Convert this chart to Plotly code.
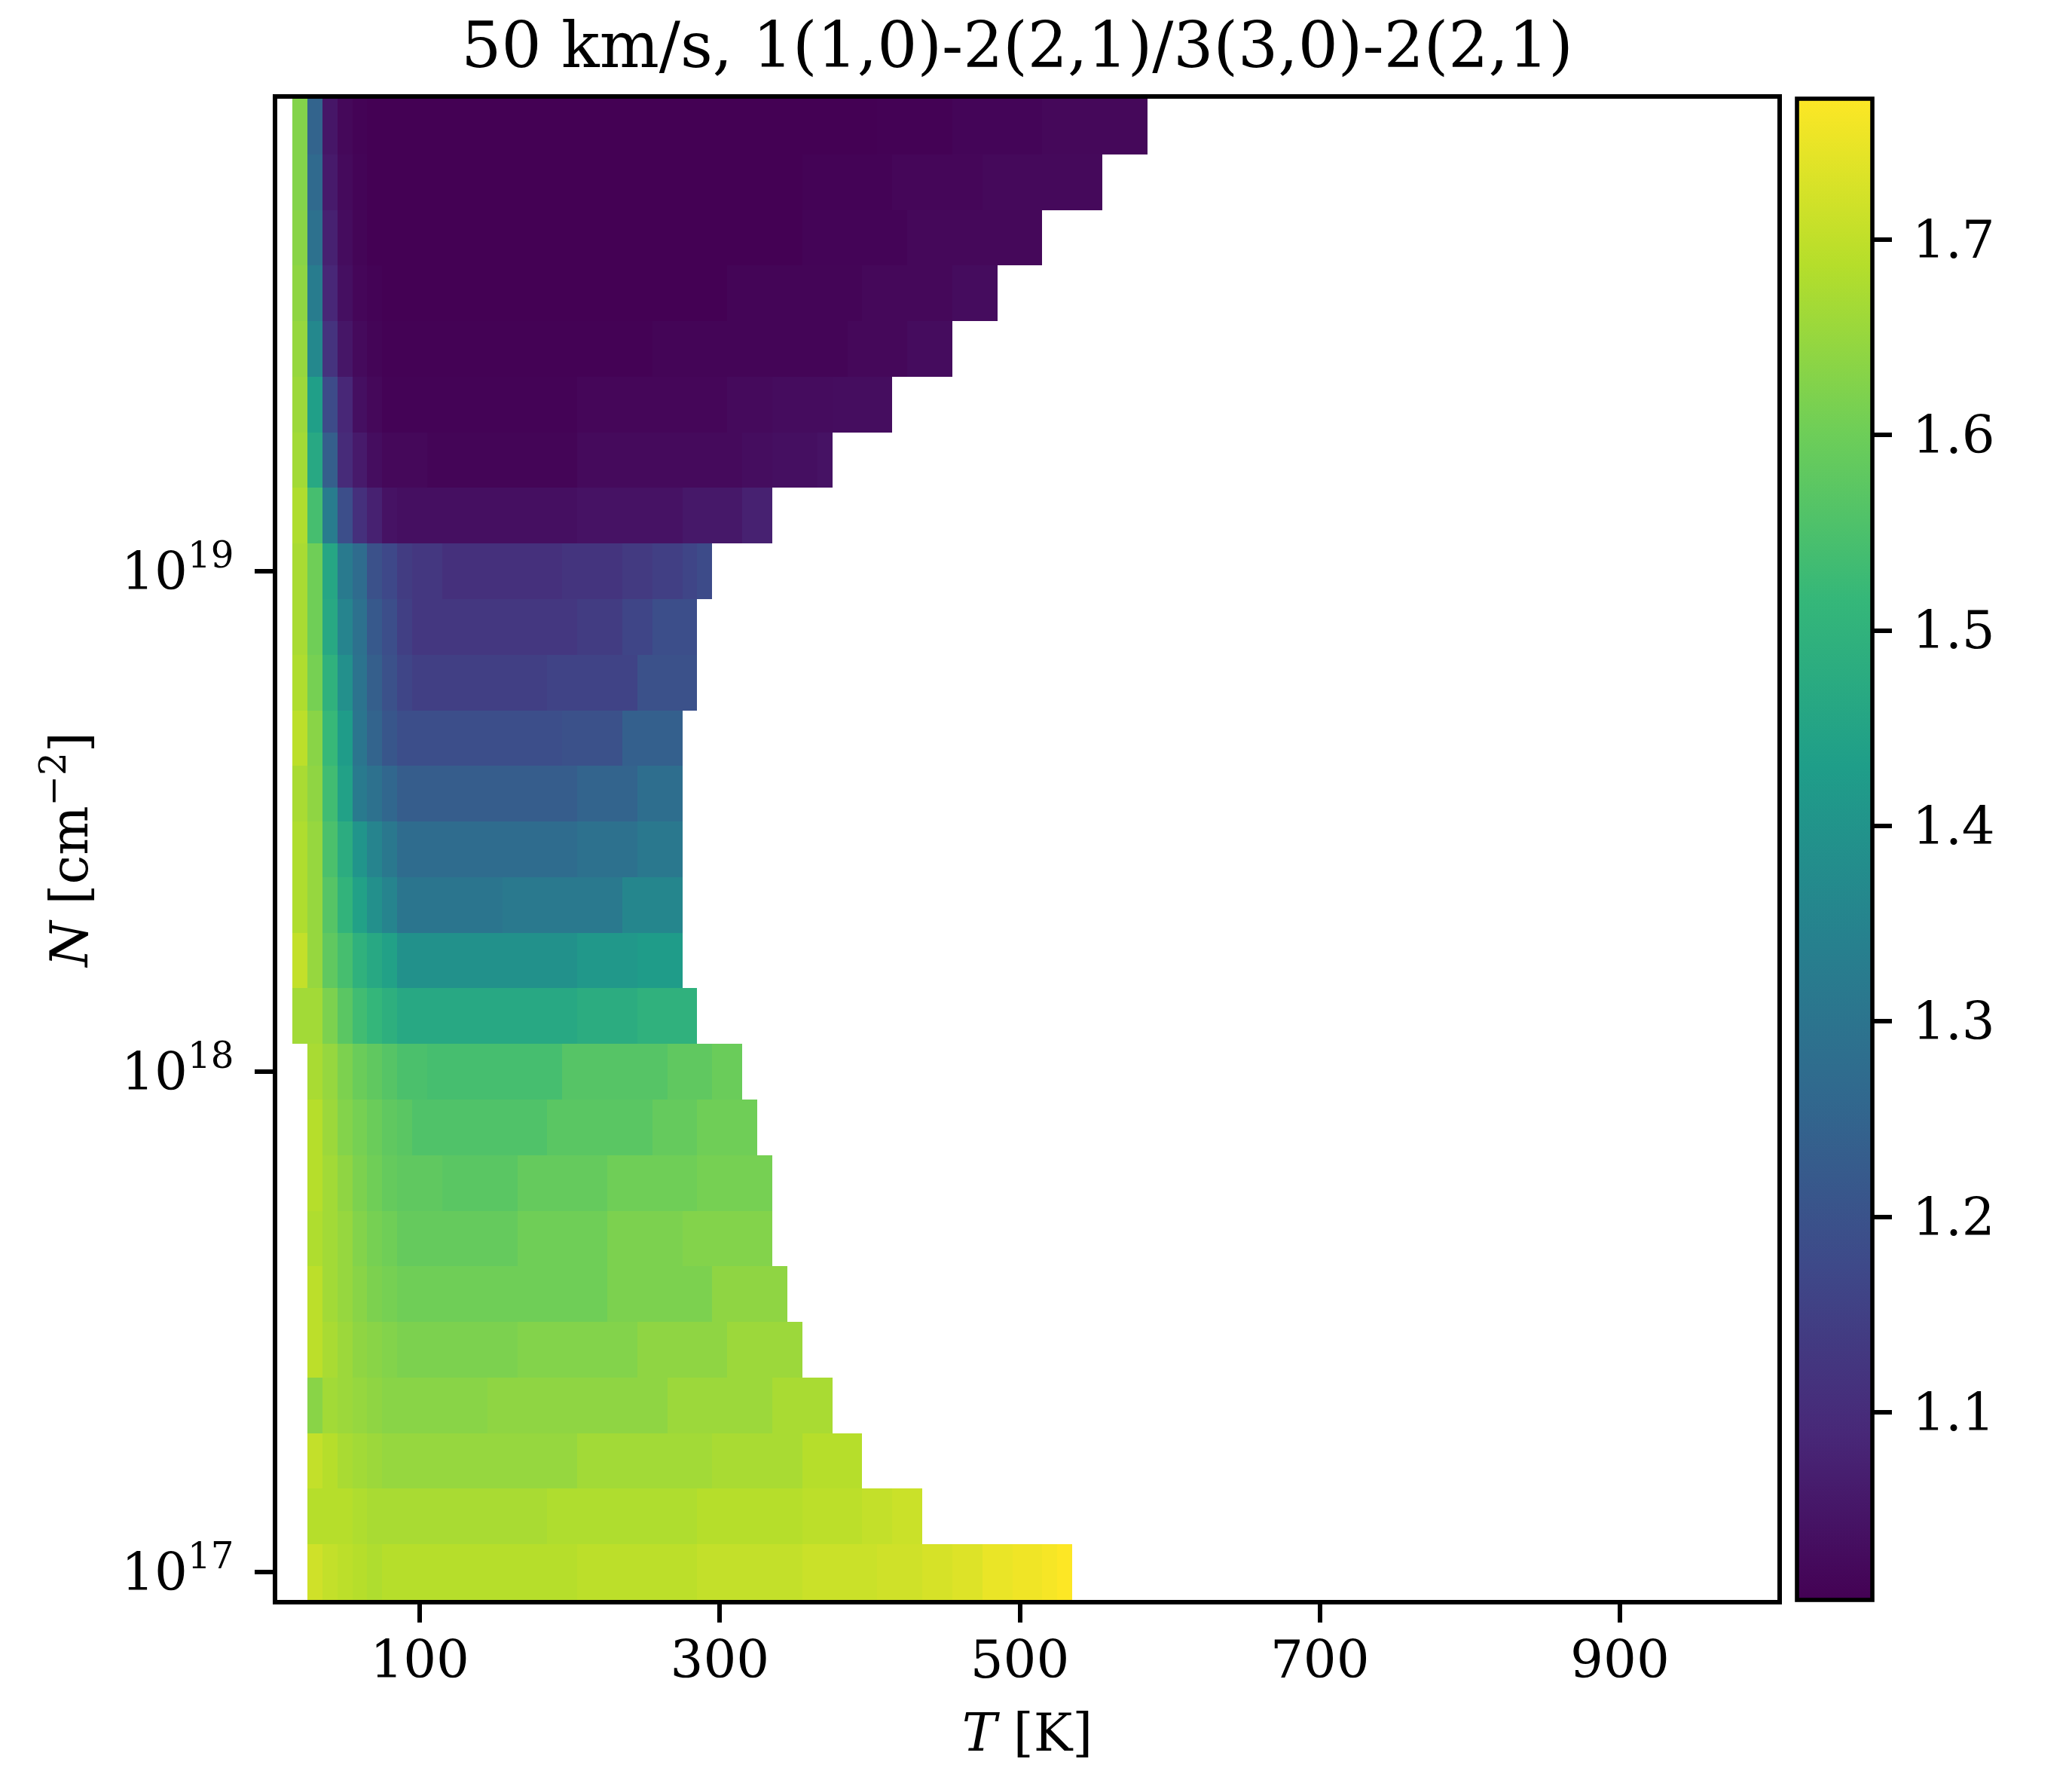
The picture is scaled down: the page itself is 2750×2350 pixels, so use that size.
import numpy as np
import plotly.graph_objects as go

# temperature grid (K) and log10 column density grid
temps_K = np.arange(10, 1001, 10)
log_N = np.linspace(17, 17 + 26 / 9, 27)

# first temperature with a value, per row (bottom row first)
row_first_T = [30] * 10 + [20] * 17

# line ratio per row, as (value, number of 10 K cells) runs
row_00 = [(1.718, 1), (1.703, 1), (1.695, 1), (1.688, 1), (1.680, 1), (1.688, 13), (1.695, 8), (1.703, 7),
          (1.711, 5), (1.718, 3), (1.726, 2), (1.734, 2), (1.749, 2), (1.757, 2), (1.764, 1), (1.772, 1)]
row_01 = [(1.688, 3), (1.680, 1), (1.672, 12), (1.680, 10), (1.688, 7), (1.695, 4), (1.703, 2), (1.711, 2)]
row_02 = [(1.703, 1), (1.688, 1), (1.672, 1), (1.664, 1), (1.657, 1), (1.649, 13), (1.664, 9), (1.672, 6), (1.688, 4)]
row_03 = [(1.634, 1), (1.664, 1), (1.657, 1), (1.649, 1), (1.641, 1), (1.634, 7), (1.641, 12), (1.657, 7), (1.672, 4)]
row_04 = [(1.695, 1), (1.672, 1), (1.657, 1), (1.641, 1), (1.634, 1), (1.626, 1), (1.618, 8), (1.626, 8), (1.641, 6),
          (1.657, 5)]
row_05 = [(1.695, 1), (1.664, 1), (1.649, 1), (1.634, 1), (1.618, 1), (1.611, 1), (1.603, 14), (1.618, 7), (1.641, 5)]
row_06 = [(1.680, 1), (1.664, 1), (1.649, 1), (1.626, 1), (1.611, 1), (1.603, 1), (1.588, 8), (1.603, 6), (1.618, 5),
          (1.626, 6)]
row_07 = [(1.688, 1), (1.664, 1), (1.641, 1), (1.618, 1), (1.603, 1), (1.588, 1), (1.580, 3), (1.572, 5), (1.588, 6),
          (1.603, 6), (1.611, 5)]
row_08 = [(1.688, 1), (1.657, 1), (1.626, 1), (1.611, 1), (1.595, 1), (1.580, 1), (1.572, 1), (1.557, 9), (1.572, 7),
          (1.588, 3), (1.603, 4)]
row_09 = [(1.672, 1), (1.649, 1), (1.618, 1), (1.595, 1), (1.580, 1), (1.565, 1), (1.549, 2), (1.542, 9), (1.565, 7),
          (1.580, 3), (1.595, 2)]
row_10 = [(1.664, 1), (1.664, 1), (1.618, 1), (1.572, 1), (1.534, 1), (1.511, 1), (1.488, 1), (1.465, 12), (1.480, 4),
          (1.496, 4)]
row_11 = [(1.703, 1), (1.649, 1), (1.580, 1), (1.542, 1), (1.496, 1), (1.465, 1), (1.442, 1), (1.392, 12), (1.411, 4),
          (1.426, 3)]
row_12 = [(1.680, 1), (1.649, 1), (1.565, 1), (1.503, 1), (1.442, 1), (1.388, 1), (1.350, 1), (1.304, 7), (1.315, 8),
          (1.357, 4)]
row_13 = [(1.680, 1), (1.649, 1), (1.549, 1), (1.480, 1), (1.403, 1), (1.350, 1), (1.311, 1), (1.273, 12), (1.288, 4),
          (1.311, 3)]
row_14 = [(1.672, 1), (1.641, 1), (1.534, 1), (1.442, 1), (1.319, 1), (1.288, 1), (1.257, 1), (1.230, 12), (1.250, 4),
          (1.280, 3)]
row_15 = [(1.695, 1), (1.634, 1), (1.519, 1), (1.426, 1), (1.303, 1), (1.250, 1), (1.211, 1), (1.188, 11), (1.196, 4),
          (1.238, 4)]
row_16 = [(1.680, 1), (1.611, 1), (1.496, 1), (1.388, 1), (1.296, 1), (1.234, 1), (1.196, 1), (1.165, 1), (1.150, 9),
          (1.158, 6), (1.196, 4)]
row_17 = [(1.672, 1), (1.603, 1), (1.465, 1), (1.350, 1), (1.288, 1), (1.219, 1), (1.188, 1), (1.150, 1), (1.127, 11),
          (1.142, 3), (1.165, 2), (1.188, 3)]
row_18 = [(1.672, 1), (1.603, 1), (1.457, 1), (1.319, 1), (1.273, 1), (1.196, 1), (1.173, 1), (1.142, 1), (1.127, 2),
          (1.111, 8), (1.120, 4), (1.135, 2), (1.150, 2), (1.165, 1), (1.181, 1)]
row_19 = [(1.680, 1), (1.542, 1), (1.327, 1), (1.188, 1), (1.111, 1), (1.073, 1), (1.042, 1), (1.035, 12), (1.042, 7),
          (1.054, 4), (1.073, 2)]
row_20 = [(1.664, 1), (1.465, 1), (1.234, 1), (1.096, 1), (1.058, 1), (1.031, 1), (1.019, 3), (1.012, 10), (1.023, 11),
          (1.031, 2), (1.035, 3), (1.042, 1)]
row_21 = [(1.657, 1), (1.434, 1), (1.181, 1), (1.088, 1), (1.035, 1), (1.019, 1), (1.008, 13), (1.016, 10), (1.023, 3),
          (1.027, 4), (1.031, 4)]
row_22 = [(1.649, 1), (1.365, 1), (1.119, 1), (1.050, 1), (1.023, 1), (1.012, 1), (1.006, 18), (1.012, 13), (1.019, 4),
          (1.027, 3)]
row_23 = [(1.641, 1), (1.327, 1), (1.088, 1), (1.035, 1), (1.016, 1), (1.008, 1), (1.004, 23), (1.012, 9), (1.019, 6),
          (1.027, 3)]
row_24 = [(1.634, 1), (1.288, 1), (1.073, 1), (1.027, 1), (1.012, 1), (1.004, 29), (1.010, 7), (1.019, 9)]
row_25 = [(1.626, 1), (1.265, 1), (1.058, 1), (1.023, 1), (1.010, 1), (1.004, 29), (1.008, 6), (1.016, 6), (1.021, 8)]
row_26 = [(1.626, 1), (1.250, 1), (1.050, 1), (1.019, 1), (1.008, 1), (1.004, 34), (1.007, 5), (1.013, 6), (1.019, 7)]

rows = [row_00, row_01, row_02, row_03, row_04, row_05, row_06, row_07, row_08, row_09, row_10, row_11, row_12,
        row_13, row_14, row_15, row_16, row_17, row_18, row_19, row_20, row_21, row_22, row_23, row_24, row_25, row_26]

cbar_ticks = [1.1, 1.2, 1.3, 1.4, 1.5, 1.6, 1.7]
y_ticks = [17, 18, 19]
x_ticks = [100, 300, 500, 700, 900]
Z_MIN, Z_MAX = 1.004, 1.772

# expand the runs into the full grid, empty cells stay NaN
z = np.full((len(log_N), len(temps_K)), np.nan)
for i, runs in enumerate(rows):
    j = int(np.searchsorted(temps_K, row_first_T[i]))
    for val, n in runs:
        z[i, j:j + n] = val
        j += n

FONT = "DejaVu Serif"
LW = 5.6
L, R, T, B = 360, 399, 123, 235
plot_w = 2750 - L - R

fig = go.Figure()
fig.add_trace(go.Heatmap(
    x=temps_K, y=log_N, z=z,
    colorscale="Viridis", zmin=Z_MIN, zmax=Z_MAX,
    hoverongaps=False,
    colorbar=dict(
        x=(2377 - L) / plot_w, xanchor="left", xpad=0, ypad=0,
        y=0.5, yanchor="middle", len=1.0, lenmode="fraction",
        thickness=100, outlinewidth=LW, outlinecolor="black",
        tickvals=cbar_ticks, showticklabels=False,
        ticks="outside", ticklen=24, tickwidth=LW, tickcolor="black",
    ),
))

# colorbar tick labels
for v in cbar_ticks:
    fig.add_annotation(
        x=(2528 - L) / plot_w, y=(v - Z_MIN) / (Z_MAX - Z_MIN), xref="paper", yref="paper",
        text=f"{v:.1f}", showarrow=False, xanchor="left", yanchor="middle",
        font=dict(family=FONT, size=69, color="black"),
    )

fig.update_layout(
    width=2750, height=2350,
    margin=dict(l=L, r=R, t=T, b=B),
    paper_bgcolor="white", plot_bgcolor="white",
    font=dict(family=FONT, color="black"),
    title=dict(text="50 km/s, 1(1,0)-2(2,1)/3(3,0)-2(2,1)",
               x=1342 / 2750, xanchor="center",
               y=1 - 52 / 2350, yanchor="middle", yref="container",
               font=dict(family=FONT, size=83.5, color="black")),
    showlegend=False,
)
fig.update_xaxes(
    range=[5, 1005], tickvals=x_ticks, ticks="outside", ticklen=24, tickwidth=LW, tickcolor="black",
    showline=True, linewidth=LW, linecolor="black", mirror=True, showgrid=False, zeroline=False,
    tickfont=dict(family=FONT, size=69), ticklabelstandoff=-10,
    title=dict(text="<i>T</i> [K]", font=dict(family=FONT, size=69), standoff=36),
)
fig.update_yaxes(
    range=[17 - 0.5 / 9, 17 + 26.5 / 9], tickvals=y_ticks,
    ticktext=[f"10<sup>{v}</sup>" for v in y_ticks],
    ticks="outside", ticklen=24, tickwidth=LW, tickcolor="black",
    showline=True, linewidth=LW, linecolor="black", mirror=True, showgrid=False, zeroline=False,
    tickfont=dict(family=FONT, size=69), ticklabelstandoff=14,
    title=dict(text="<i>N</i> [cm<sup>−2</sup>]", font=dict(family=FONT, size=69), standoff=24),
)

fig.write_html("out.html")
